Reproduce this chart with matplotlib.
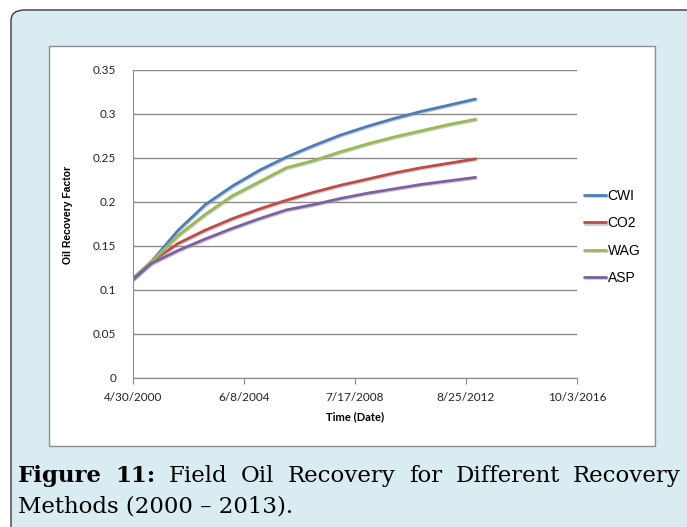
import datetime as dt

import matplotlib
matplotlib.use("Agg")
import matplotlib.pyplot as plt
import matplotlib.dates as mdates
import matplotlib.patheffects as pe
from matplotlib.patches import FancyBboxPatch, Rectangle

# Field recovery factor, sampled at the start of each year
dates = [dt.date(2000, 4, 30)] + [dt.date(y, 1, 1) for y in range(2001, 2014)]
cwi = [0.113, 0.132, 0.168, 0.197, 0.218, 0.236, 0.251, 0.264, 0.276, 0.286, 0.295, 0.303, 0.310, 0.317]
co2 = [0.113, 0.132, 0.153, 0.168, 0.181, 0.192, 0.202, 0.211, 0.219, 0.226, 0.233, 0.239, 0.244, 0.249]
wag = [0.113, 0.132, 0.162, 0.186, 0.207, 0.223, 0.239, 0.247, 0.257, 0.266, 0.274, 0.281, 0.288, 0.294]
asp = [0.112, 0.130, 0.145, 0.158, 0.170, 0.181, 0.191, 0.197, 0.204, 0.210, 0.215, 0.220, 0.224, 0.228]

series = [("CWI", cwi, "#4A7EBB"), ("CO2", co2, "#BE4B48"),
          ("WAG", wag, "#98B954"), ("ASP", asp, "#7D60A0")]

x_ticks = [dt.date(2000, 4, 30), dt.date(2004, 6, 8), dt.date(2008, 7, 17),
           dt.date(2012, 8, 25), dt.date(2016, 10, 3)]
y_ticks = [0, 0.05, 0.1, 0.15, 0.2, 0.25, 0.3, 0.35]

W, H = 687, 527
fig = plt.figure(figsize=(W / 100, H / 100), dpi=100)
fig.patch.set_facecolor("white")


def fx(px):
    return px / W


def fy(py):
    return 1 - py / H


# light blue caption panel with rounded corners
panel = FancyBboxPatch((fx(11), fy(540)), fx(700) - fx(11), fy(10) - fy(540),
                       boxstyle="round,pad=0,rounding_size=0.02",
                       transform=fig.transFigure, facecolor="#D9ECF1",
                       edgecolor="#3a3a3a", linewidth=1.0, zorder=0)
fig.add_artist(panel)

# white chart area
chart = Rectangle((fx(49), fy(446)), fx(655) - fx(49), fy(46) - fy(446),
                  transform=fig.transFigure, facecolor="white",
                  edgecolor="#8c8c8c", linewidth=1.0, zorder=1)
fig.add_artist(chart)

ax = fig.add_axes([fx(133), fy(378), fx(577) - fx(133), fy(70) - fy(378)], zorder=2)
ax.patch.set_alpha(0)

shadow = [pe.SimpleLineShadow(offset=(0.6, -0.8), shadow_color="#999999", alpha=0.5), pe.Normal()]
for name, vals, color in series:
    ax.plot(dates, vals, color=color, lw=2.0, label=name, solid_capstyle="round",
            path_effects=shadow)

ax.set_xlim(x_ticks[0], x_ticks[-1])
ax.set_ylim(0, 0.35)
ax.set_xticks(x_ticks)
ax.xaxis.set_major_formatter(mdates.DateFormatter("%-m/%-d/%Y"))
ax.set_yticks(y_ticks)
ax.set_yticklabels(["0", "0.05", "0.1", "0.15", "0.2", "0.25", "0.3", "0.35"])
ax.yaxis.grid(True, color="#8a8a8a", lw=1.0)
ax.set_axisbelow(True)
for s in ("top", "right"):
    ax.spines[s].set_visible(False)
for s in ("left", "bottom"):
    ax.spines[s].set_color("#8a8a8a")
ax.tick_params(axis="x", length=4, color="#8a8a8a", labelsize=8.5, pad=6)
ax.tick_params(axis="y", length=0, labelsize=8.5, pad=12)
for lbl in ax.get_xticklabels() + ax.get_yticklabels():
    lbl.set_fontfamily("Lato")
    lbl.set_color("#222222")

ax.set_xlabel("Time (Date)", fontfamily="Lato", fontweight="bold", fontsize=8, labelpad=6)
ax.set_ylabel("Oil Recovery Factor", fontfamily="Liberation Sans", fontweight="bold", fontsize=7.5)
ax.yaxis.set_label_coords(-0.135, 0.53)

leg = ax.legend(loc="center left", bbox_to_anchor=(1.0, 0.458), frameon=False,
                prop={"family": "Liberation Sans", "size": 10}, handlelength=1.6,
                handletextpad=0.1, labelspacing=0.95, borderaxespad=0.1)

# caption, first line justified across the panel
cap_font = {"family": "DejaVu Serif", "size": 16.5}
words = [("Figure", "bold"), ("11:", "bold"), ("Field", "normal"), ("Oil", "normal"),
         ("Recovery", "normal"), ("for", "normal"), ("Different", "normal"), ("Recovery", "normal")]
x0, x1, base1 = 18, 681, 482
texts = [fig.text(0, fy(base1), w, fontweight=wt, va="baseline", ha="left", **cap_font)
         for w, wt in words]
fig.canvas.draw()
r = fig.canvas.get_renderer()
widths = [t.get_window_extent(r).width for t in texts]
gap = (x1 - x0 - sum(widths)) / (len(words) - 1)
x = x0
for t, w in zip(texts, widths):
    t.set_x(fx(x))
    x += w + gap
fig.text(fx(x0), fy(513), "Methods (2000 \u2013 2013).", va="baseline", ha="left", **cap_font)

fig.savefig("out.png", dpi=100)
